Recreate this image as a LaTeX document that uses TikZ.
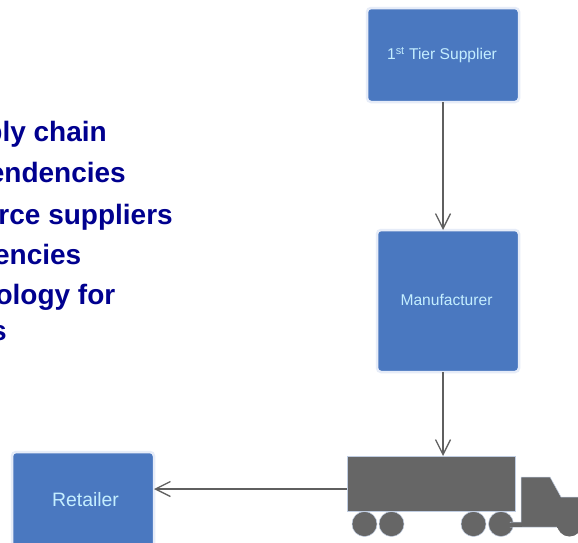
\documentclass[tikz,border=0pt]{standalone}
\usepackage{fontspec}
\setmainfont{Liberation Sans}
\usetikzlibrary{arrows.meta}
\definecolor{boxfill}{HTML}{4A78C0}
\definecolor{boxedge}{HTML}{E6ECF8}
\definecolor{boxtext}{HTML}{C4EEFF}
\definecolor{headtext}{HTML}{00008F}
\definecolor{linegray}{HTML}{5F5F5F}
\definecolor{truckgray}{HTML}{666666}
\definecolor{truckedge}{HTML}{C0CDE2}
\tikzset{
  x=1pt,y=-1pt,
  block/.style={draw=boxedge,line width=2.5pt,fill=boxfill,rounded corners=4pt,text=boxtext,inner sep=0pt,outer sep=0pt,anchor=north west,font=\fontsize{15.6pt}{18pt}\selectfont},
  flow/.style={draw=linegray,line width=1.8pt,-{Straight Barb[length=15pt,width=15pt,line width=1.3pt]}},
  truckpart/.style={draw=truckedge,line width=0.5pt,fill=truckgray},
  wheel/.style={truckpart,circle,minimum size=25pt,inner sep=0pt},
  headline/.style={anchor=base east,text=headtext,inner sep=0pt,font=\fontsize{28pt}{32pt}\selectfont\bfseries},
}
\begin{document}
\begin{tikzpicture}
\useasboundingbox (0,0) rectangle (578,542);
\clip (0,0) rectangle (578,542);
\fill[white] (0,0) rectangle (578,542);
% left text
\node[headline] (l1) at (107,141) {ply chain};
\node[headline] (l2) at (126,182) {endencies};
\node[headline] (l3) at (173,224) {rce suppliers};
\node[headline] (l4) at (81.5,264) {encies};
\node[headline] (l5) at (115.5,304) {ology for};
\node[headline] (l6) at (7,340) {s};
% boxes
\node[block,minimum width=152pt,minimum height=94pt] (sup) at (367,8) {\hspace*{-2pt}\raisebox{2pt}{1\textsuperscript{st} Tier Supplier}};
\node[block,minimum width=142pt,minimum height=142pt] (man) at (377,230) {\hspace*{-3pt}\raisebox{2pt}{Manufacturer}};
\node[block,minimum width=142pt,minimum height=96pt,font=\fontsize{19.4pt}{22pt}\selectfont] (ret) at (12,452) {\hspace*{5pt}\raisebox{2pt}{Retailer}};
% truck
\node[circle,fill=truckgray,minimum size=25pt,inner sep=0pt] (w5) at (569.5,524) {};
\node[wheel] (w1) at (364.5,524) {};
\node[wheel] (w2) at (391.5,524) {};
\node[wheel] (w3) at (473.5,524) {};
\node[wheel] (w4) at (501,524) {};
\filldraw[truckpart] (521,477) -- (550,477) -- (561,497) -- (590,497) -- (590,527) -- (510,527) -- (510,522) -- (521,522) -- cycle;
\fill[truckgray] (505,522.5) rectangle (522,526.7);
\fill[truckgray] (557,526) rectangle (578,528);
\node[truckpart,minimum width=168pt,minimum height=55pt,inner sep=0pt,outer sep=0pt,anchor=north west] (trailer) at (347,456) {};
% connectors
\draw[flow] (sup.south) -- (sup.south |- man.north);
\draw[flow] (man.south -| sup.south) -- (sup.south |- trailer.north);
\draw[flow] ([yshift=-5.5pt]trailer.west) -- ([yshift=-5.5pt]trailer.west -| ret.east);
\end{tikzpicture}
\end{document}
